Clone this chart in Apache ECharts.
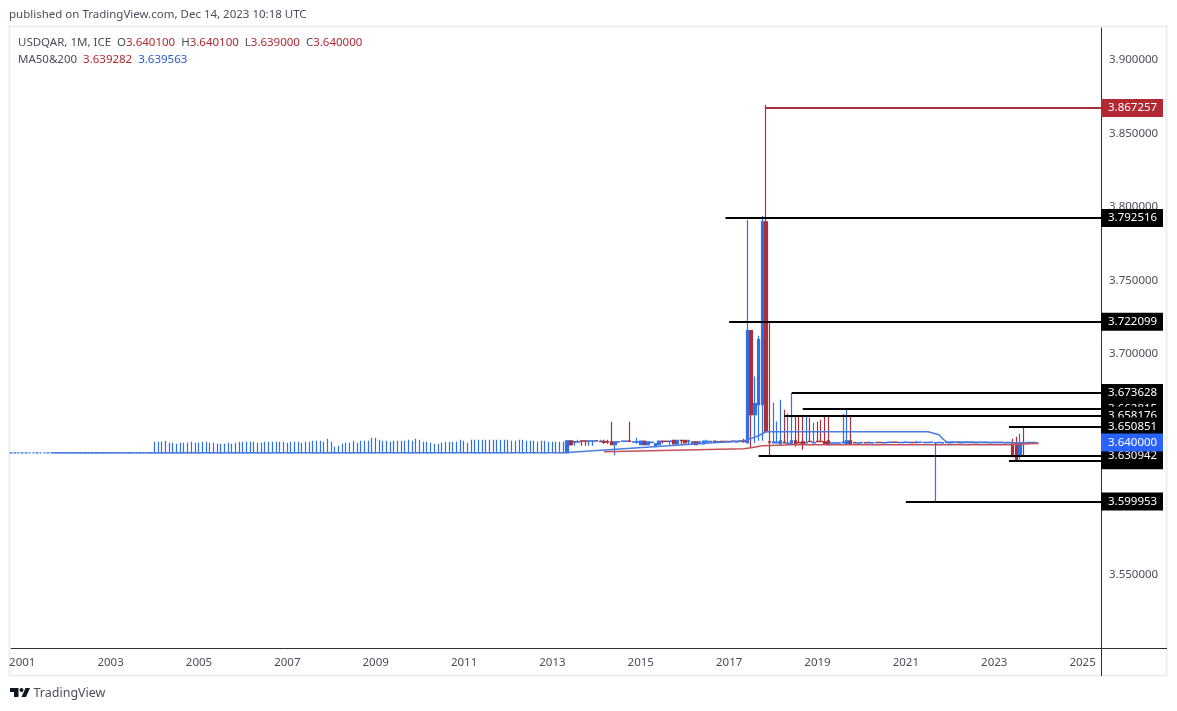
<!DOCTYPE html>
<html style="height: 100%">
<head>
    <meta charset="utf-8">
    <script src="https://cdn.jsdelivr.net/npm/echarts@6/dist/echarts.min.js"></script>
</head>
<body style="height: 100%; margin: 0; background-color: #fff;">
<div id="container" style="width: 1177px; height: 711px"></div>
<script type="text/javascript">
    // price tick labels come from the axis, the year labels from these months
    var firstMonth = [2000, 10];
    var monthCount = 297;

    // flat part, every bar sits on this price
    var flatPrice = 3.633;
    var flatBarsBefore2004 = 39;

    // monthly highs of the flat part
    var highs2004 = [3.6405, 3.6405, 3.6405, 3.6412, 3.6398, 3.6398, 3.6391, 3.6398, 3.6398, 3.6398, 3.6405, 3.6398];
    var highs2005 = [3.6398, 3.6405, 3.6405, 3.6398, 3.6398, 3.6391, 3.6391, 3.6391, 3.6398, 3.6391, 3.6398, 3.6405];
    var highs2006 = [3.6405, 3.6405, 3.6405, 3.6405, 3.6398, 3.6398, 3.6405, 3.6405, 3.6405, 3.6405, 3.6405, 3.6405];
    var highs2007 = [3.6398, 3.6405, 3.6405, 3.6405, 3.6398, 3.6405, 3.6405, 3.6412, 3.6412, 3.6412, 3.6405, 3.6425];
    var highs2008 = [3.6405, 3.6371, 3.6378, 3.6391, 3.6398, 3.6398, 3.6412, 3.6398, 3.6412, 3.6412, 3.6412, 3.6432];
    var highs2009 = [3.6432, 3.6419, 3.6412, 3.6412, 3.6405, 3.6412, 3.6412, 3.6412, 3.6412, 3.6419, 3.6412, 3.6425];
    var highs2010 = [3.6419, 3.6405, 3.6405, 3.6398, 3.6391, 3.6391, 3.6398, 3.6405, 3.6405, 3.6405, 3.6405, 3.6419];
    var highs2011 = [3.6412, 3.6398, 3.6419, 3.6419, 3.6419, 3.6419, 3.6419, 3.6419, 3.6419, 3.6419, 3.6419, 3.6419];
    var highs2012 = [3.6419, 3.6412, 3.6412, 3.6419, 3.6419, 3.6412, 3.6412, 3.6412, 3.6405, 3.6412, 3.6412, 3.6405];
    var highs2013 = [3.6405, 3.6405, 3.6405, 3.6405];

    // open, close, low, high
    var bars2013 = [
        [3.6330, 3.6412, 3.6330, 3.6412], [3.6412, 3.6385, 3.6378, 3.6412], [3.6403, 3.6406, 3.6378, 3.6406], [3.6403, 3.6405, 3.6403, 3.6419],
        [3.6412, 3.6410, 3.6378, 3.6412], [3.6412, 3.6410, 3.6378, 3.6412], [3.6410, 3.6412, 3.6378, 3.6412], [3.6410, 3.6412, 3.6378, 3.6412]
    ];
    var bars2014 = [
        [3.6412, 3.6410, 3.6410, 3.6412], [3.6405, 3.6408, 3.6405, 3.6419], [3.6407, 3.6400, 3.6391, 3.6419], [3.6405, 3.6403, 3.6391, 3.6419],
        [3.6405, 3.6385, 3.6385, 3.6541], [3.6385, 3.6405, 3.6313, 3.6405], [3.6403, 3.6405, 3.6403, 3.6405], [3.6408, 3.6410, 3.6408, 3.6410],
        [3.6408, 3.6410, 3.6408, 3.6410], [3.6409, 3.6407, 3.6407, 3.6541], [3.6403, 3.6405, 3.6403, 3.6405], [3.6402, 3.6405, 3.6391, 3.6432]
    ];
    var bars2015 = [
        [3.6385, 3.6409, 3.6385, 3.6409], [3.6409, 3.6385, 3.6385, 3.6409], [3.6385, 3.6405, 3.6385, 3.6405], [3.6400, 3.6402, 3.6400, 3.6402],
        [3.6371, 3.6391, 3.6371, 3.6391], [3.6385, 3.6409, 3.6385, 3.6409], [3.6409, 3.6407, 3.6391, 3.6409], [3.6409, 3.6407, 3.6407, 3.6409],
        [3.6408, 3.6410, 3.6385, 3.6412], [3.6415, 3.6391, 3.6391, 3.6415], [3.6391, 3.6415, 3.6391, 3.6415], [3.6415, 3.6413, 3.6385, 3.6415]
    ];
    var bars2016 = [
        [3.6415, 3.6398, 3.6398, 3.6415], [3.6410, 3.6412, 3.6385, 3.6419], [3.6391, 3.6405, 3.6391, 3.6405], [3.6405, 3.6385, 3.6385, 3.6405],
        [3.6400, 3.6403, 3.6391, 3.6412], [3.6391, 3.6409, 3.6391, 3.6409], [3.6405, 3.6407, 3.6398, 3.6419], [3.6405, 3.6407, 3.6398, 3.6412],
        [3.6410, 3.6408, 3.6400, 3.6412], [3.6403, 3.6406, 3.6398, 3.6412], [3.6408, 3.6406, 3.6398, 3.6410], [3.6408, 3.6406, 3.6404, 3.6408]
    ];
    var bars2017 = [
        [3.6404, 3.6407, 3.6398, 3.6410], [3.6410, 3.6408, 3.6400, 3.6412], [3.6403, 3.6406, 3.6398, 3.6410], [3.6410, 3.6408, 3.6402, 3.6412],
        [3.6412, 3.6405, 3.6398, 3.6425], [3.6398, 3.7160, 3.6398, 3.7914], [3.7160, 3.6589, 3.6364, 3.7160], [3.6589, 3.6664, 3.6398, 3.6848],
        [3.6658, 3.7099, 3.6412, 3.7126], [3.6658, 3.7900, 3.6412, 3.7940], [3.7900, 3.6473, 3.6473, 3.8695], [3.6405, 3.6403, 3.6309, 3.7221]
    ];
    var bars2018 = [
        [3.6398, 3.6402, 3.6398, 3.6671], [3.6398, 3.6402, 3.6398, 3.6542], [3.6391, 3.6412, 3.6391, 3.6691], [3.6402, 3.6398, 3.6398, 3.6623],
        [3.6391, 3.6395, 3.6391, 3.6596], [3.6391, 3.6412, 3.6391, 3.6736], [3.6412, 3.6391, 3.6371, 3.6583], [3.6400, 3.6398, 3.6398, 3.6576],
        [3.6405, 3.6391, 3.6351, 3.6583], [3.6398, 3.6400, 3.6398, 3.6576], [3.6407, 3.6405, 3.6405, 3.6569], [3.6398, 3.6400, 3.6398, 3.6535]
    ];
    var bars2019 = [
        [3.6407, 3.6405, 3.6405, 3.6542], [3.6407, 3.6405, 3.6405, 3.6555], [3.6405, 3.6391, 3.6391, 3.6576], [3.6412, 3.6385, 3.6385, 3.6576],
        [3.6396, 3.6398, 3.6396, 3.6398], [3.6396, 3.6398, 3.6396, 3.6398], [3.6396, 3.6398, 3.6396, 3.6398], [3.6398, 3.6402, 3.6398, 3.6596],
        [3.6391, 3.6412, 3.6391, 3.6623], [3.6412, 3.6391, 3.6391, 3.6576], [3.6400, 3.6398, 3.6398, 3.6402], [3.6396, 3.6398, 3.6394, 3.6400]
    ];
    var bars2020 = [
        [3.6398, 3.6400, 3.6396, 3.6402], [3.6400, 3.6398, 3.6396, 3.6402], [3.6398, 3.6401, 3.6396, 3.6405], [3.6398, 3.6400, 3.6396, 3.6400],
        [3.6399, 3.6401, 3.6397, 3.6403], [3.6401, 3.6399, 3.6397, 3.6401], [3.6398, 3.6400, 3.6398, 3.6402], [3.6399, 3.6401, 3.6399, 3.6401],
        [3.6400, 3.6402, 3.6398, 3.6402], [3.6402, 3.6400, 3.6398, 3.6402], [3.6399, 3.6401, 3.6397, 3.6403], [3.6399, 3.6401, 3.6399, 3.6401]
    ];
    var bars2021 = [
        [3.6400, 3.6402, 3.6398, 3.6404], [3.6399, 3.6401, 3.6399, 3.6401], [3.6401, 3.6399, 3.6397, 3.6401], [3.6399, 3.6401, 3.6399, 3.6412],
        [3.6400, 3.6402, 3.6398, 3.6402], [3.6399, 3.6401, 3.6397, 3.6403], [3.6399, 3.6401, 3.6399, 3.6401], [3.6400, 3.6402, 3.6398, 3.6402],
        [3.6398, 3.6400, 3.5999, 3.6402], [3.6399, 3.6401, 3.6397, 3.6403], [3.6398, 3.6400, 3.6396, 3.6402], [3.6399, 3.6401, 3.6399, 3.6401]
    ];
    var bars2022 = [
        [3.6398, 3.6400, 3.6396, 3.6402], [3.6399, 3.6401, 3.6397, 3.6401], [3.6401, 3.6399, 3.6397, 3.6401], [3.6398, 3.6400, 3.6398, 3.6402],
        [3.6399, 3.6401, 3.6397, 3.6403], [3.6399, 3.6401, 3.6399, 3.6401], [3.6401, 3.6399, 3.6397, 3.6401], [3.6398, 3.6400, 3.6396, 3.6402],
        [3.6399, 3.6401, 3.6399, 3.6403], [3.6399, 3.6401, 3.6397, 3.6401], [3.6401, 3.6399, 3.6397, 3.6403], [3.6398, 3.6400, 3.6398, 3.6402]
    ];
    var bars2023 = [
        [3.6399, 3.6401, 3.6397, 3.6403], [3.6399, 3.6401, 3.6397, 3.6401], [3.6401, 3.6399, 3.6397, 3.6403], [3.6398, 3.6400, 3.6398, 3.6402],
        [3.6399, 3.6401, 3.6397, 3.6403], [3.6398, 3.6303, 3.6303, 3.6425], [3.6398, 3.6279, 3.6279, 3.6439], [3.6305, 3.6398, 3.6285, 3.6459],
        [3.6400, 3.6398, 3.6309, 3.6509], [3.6399, 3.6401, 3.6397, 3.6403], [3.6399, 3.6401, 3.6397, 3.6402], [3.6399, 3.6401, 3.6390, 3.6401]
    ];

    // moving averages, month and value at each bend of the line
    var maBlue = [
        ['2001-09', 3.6330], ['2013-05', 3.6332], ['2017-05', 3.6412], ['2017-06', 3.6419], ['2017-09', 3.6446], ['2017-11', 3.6473],
        ['2021-07', 3.6473], ['2021-10', 3.6453], ['2021-11', 3.6425], ['2021-12', 3.6405], ['2023-12', 3.6396], ['2024-01', 3.6396]
    ];
    var maRed = [
        ['2014-03', 3.6337], ['2017-05', 3.6358], ['2017-07', 3.6364], ['2017-10', 3.6378], ['2018-06', 3.6385],
        ['2023-05', 3.6385], ['2023-12', 3.6393], ['2024-01', 3.6393]
    ];

    // horizontal levels: first month, price, label
    var levels = [
        ['2017-11', 3.867257, '3.867257'],
        ['2016-12', 3.792516, '3.792516'],
        ['2017-01', 3.722099, '3.722099'],
        ['2018-06', 3.673628, '3.673628'],
        ['2018-09', 3.662815, '3.662815'],
        ['2018-04', 3.658176, '3.658176'],
        ['2023-05', 3.650851, '3.650851'],
        ['2021-01', 3.599953, '3.599953'],
        ['2023-05', 3.627867, '3.627867'],
        ['2017-09', 3.630942, '3.630942']
    ];
    var lastPrice = 3.64;

    var blue = '#2f6fe8';
    var red = '#a9303a';
    var labelFont = '"Noto Sans", sans-serif';

    var months = [];
    for (var i = 0; i < monthCount; i++) {
        var total = firstMonth[0] * 12 + firstMonth[1] - 1 + i;
        var m = total % 12 + 1;
        months.push(Math.floor(total / 12) + '-' + (m < 10 ? '0' + m : m));
    }
    var lastMonth = months[months.length - 1];

    var bars = [];
    for (var j = 0; j < flatBarsBefore2004; j++) {
        bars.push([flatPrice, flatPrice, flatPrice, flatPrice]);
    }
    [highs2004, highs2005, highs2006, highs2007, highs2008, highs2009, highs2010, highs2011, highs2012, highs2013].forEach(function(highs) {
        highs.forEach(function(h) {
            bars.push([flatPrice, flatPrice, flatPrice, h]);
        });
    });
    bars = bars.concat(bars2013, bars2014, bars2015, bars2016, bars2017, bars2018, bars2019, bars2020, bars2021, bars2022, bars2023);

    function priceLabel(bg) {
        return {
            show: true,
            position: 'end',
            distance: 0,
            formatter: '{b}',
            color: '#fff',
            fontSize: 11.5,
            fontFamily: labelFont,
            backgroundColor: bg,
            padding: [4, 5, 2, 7],
            width: 50,
            height: 12,
            lineHeight: 12
        };
    }

    var levelLines = levels.map(function(l) {
        var isRed = l[1] === levels[0][1];
        return [
            {
                name: l[2],
                coord: [l[0], l[1]],
                lineStyle: {color: isRed ? red : '#000', width: 2, type: 'solid'},
                label: priceLabel(isRed ? '#b22833' : '#000')
            },
            {coord: [lastMonth, l[1]]}
        ];
    });
    // last price box on top, it has no line
    levelLines.push([
        {
            name: '3.640000',
            coord: [months[months.length - 2], lastPrice],
            lineStyle: {color: 'transparent', width: 0},
            label: priceLabel('#2962ff')
        },
        {coord: [lastMonth, lastPrice]}
    ]);

    var myChart = echarts.init(document.getElementById('container'));
    var option = {
        animation: false,
        backgroundColor: '#fff',
        grid: {left: 11.2, right: 76, top: 28, bottom: 62.5},
        xAxis: {
            type: 'category',
            data: months,
            boundaryGap: false,
            axisLine: {show: true, onZero: false, lineStyle: {color: '#2a2e39', width: 1}},
            axisTick: {show: false},
            splitLine: {show: false},
            axisLabel: {
                color: '#4a4e5a',
                fontSize: 11.5,
                fontFamily: labelFont,
                margin: 8,
                interval: function(index, value) {
                    return value.slice(5) === '01' && Number(value.slice(0, 4)) % 2 === 1;
                },
                formatter: function(value) {
                    return value.slice(0, 4);
                }
            }
        },
        yAxis: {
            type: 'value',
            position: 'right',
            min: 3.5,
            max: 3.9217,
            interval: 0.05,
            scale: true,
            axisLine: {show: true, onZero: false, lineStyle: {color: '#2a2e39', width: 1}},
            axisTick: {show: false},
            splitLine: {show: false},
            axisLabel: {
                color: '#4a4e5a',
                fontSize: 11.5,
                fontFamily: labelFont,
                margin: 8,
                padding: [2, 0, 0, 0],
                showMinLabel: false,
                showMaxLabel: false,
                formatter: function(value) {
                    return value.toFixed(6);
                }
            }
        },
        series: [
            {
                type: 'candlestick',
                data: bars,
                barWidth: 3,
                clip: false,
                itemStyle: {
                    color: blue,
                    color0: red,
                    borderColor: blue,
                    borderColor0: red,
                    borderWidth: 1.2
                },
                markLine: {
                    silent: true,
                    symbol: 'none',
                    animation: false,
                    data: levelLines
                }
            },
            {
                type: 'line',
                data: maBlue,
                symbol: 'none',
                lineStyle: {color: '#4a7ddc', width: 1.5}
            },
            {
                type: 'line',
                data: maRed,
                symbol: 'none',
                lineStyle: {color: '#c4505a', width: 1.5}
            }
        ],
        graphic: [
            {
                type: 'rect',
                silent: true,
                z: -1,
                shape: {x: 9.5, y: 26.5, width: 1157, height: 649},
                style: {fill: 'none', stroke: '#eceef2', lineWidth: 2}
            },
            {type: 'line', silent: true, shape: {x1: 1101.5, y1: 648, x2: 1101.5, y2: 676}, style: {stroke: '#2a2e39', lineWidth: 1}},
            {type: 'line', silent: true, shape: {x1: 1101, y1: 648.5, x2: 1167, y2: 648.5}, style: {stroke: '#2a2e39', lineWidth: 1}},
            {
                type: 'text',
                left: 9,
                top: 9,
                style: {
                    text: 'published on TradingView.com, Dec 14, 2023 10:18 UTC',
                    fill: '#4a4e5a',
                    font: '11.5px ' + labelFont
                }
            },
            {
                type: 'text',
                left: 18,
                top: 37,
                style: {
                    text: '{g|USDQAR, 1M, ICE  O}{r|3.640100}{g|  H}{r|3.640100}{g|  L}{r|3.639000}{g|  C}{r|3.640000}',
                    rich: {
                        g: {fill: '#4a4e5a', font: '11.5px ' + labelFont},
                        r: {fill: '#b22833', font: '11.5px ' + labelFont}
                    }
                }
            },
            {
                type: 'text',
                left: 18,
                top: 54,
                style: {
                    text: '{g|MA50&200  }{r|3.639282}{g|  }{b|3.639563}',
                    rich: {
                        g: {fill: '#4a4e5a', font: '11.5px ' + labelFont},
                        r: {fill: '#b22833', font: '11.5px ' + labelFont},
                        b: {fill: '#2a5bc8', font: '11.5px ' + labelFont}
                    }
                }
            },
            // TradingView logo
            {type: 'polygon', silent: true, shape: {points: [[10, 688], [18.5, 688], [18.5, 697], [14, 697], [14, 692], [10, 692]]}, style: {fill: '#131722'}},
            {type: 'circle', silent: true, shape: {cx: 21.5, cy: 690, r: 2}, style: {fill: '#131722'}},
            {type: 'polygon', silent: true, shape: {points: [[25.5, 688], [30, 688], [26, 697], [21.5, 697]]}, style: {fill: '#131722'}},
            {
                type: 'text',
                left: 33.5,
                top: 687,
                style: {
                    text: 'TradingView',
                    fill: '#4a4e5a',
                    font: '12.5px ' + labelFont
                }
            }
        ]
    };
    myChart.setOption(option);
</script>
</body>
</html>
